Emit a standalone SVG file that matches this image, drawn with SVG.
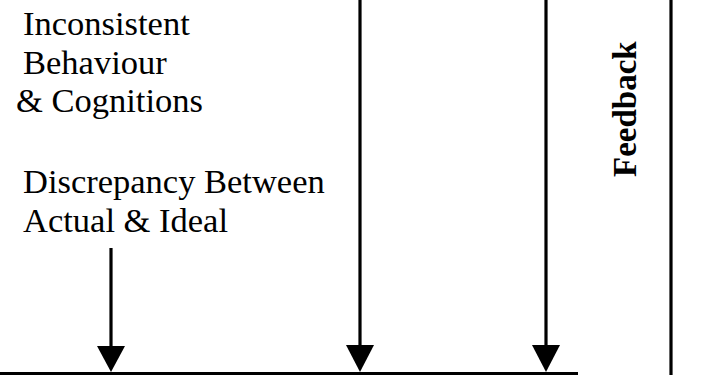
<svg xmlns="http://www.w3.org/2000/svg" width="711" height="375" viewBox="0 0 711 375">
  <defs>
    <style>
      .lbl { font-family: "Liberation Serif", "Times New Roman", serif; font-size: 34.5px; fill: #000; }
      .bold { font-weight: bold; font-size: 33px; }
      .wire { stroke: #000; stroke-width: 3.2; fill: none; }
      .head { fill: #000; }
    </style>
  </defs>
  <rect width="711" height="375" fill="#fff"/>

  <g id="inconsistent">
    <text class="lbl" x="23" y="35">Inconsistent</text>
    <text class="lbl" x="23" y="74">Behaviour</text>
    <text class="lbl" x="16" y="112">&amp; Cognitions</text>
  </g>

  <g id="discrepancy">
    <text class="lbl" x="23" y="193">Discrepancy Between</text>
    <text class="lbl" x="23" y="232">Actual &amp; Ideal</text>
  </g>

  <g id="feedback">
    <text class="lbl bold" transform="translate(636,177) rotate(-90)">Feedback</text>
  </g>

  <g id="connectors">
    <!-- downward arrows ending on the base line -->
    <line class="wire" x1="111" y1="248" x2="111" y2="346" />
    <path class="head" d="M97,346 L125,346 L111,372 Z"/>
    <line class="wire" x1="360" y1="0" x2="360" y2="346" />
    <path class="head" d="M346,345 L374,345 L360,372 Z"/>
    <line class="wire" x1="546" y1="0" x2="546" y2="346" />
    <path class="head" d="M532,345 L560,345 L546,372 Z"/>
    <!-- base line -->
    <line class="wire" x1="0" y1="373.5" x2="578" y2="373.5" />
    <!-- feedback loop side -->
    <line class="wire" x1="671" y1="0" x2="671" y2="375" />
  </g>
</svg>
